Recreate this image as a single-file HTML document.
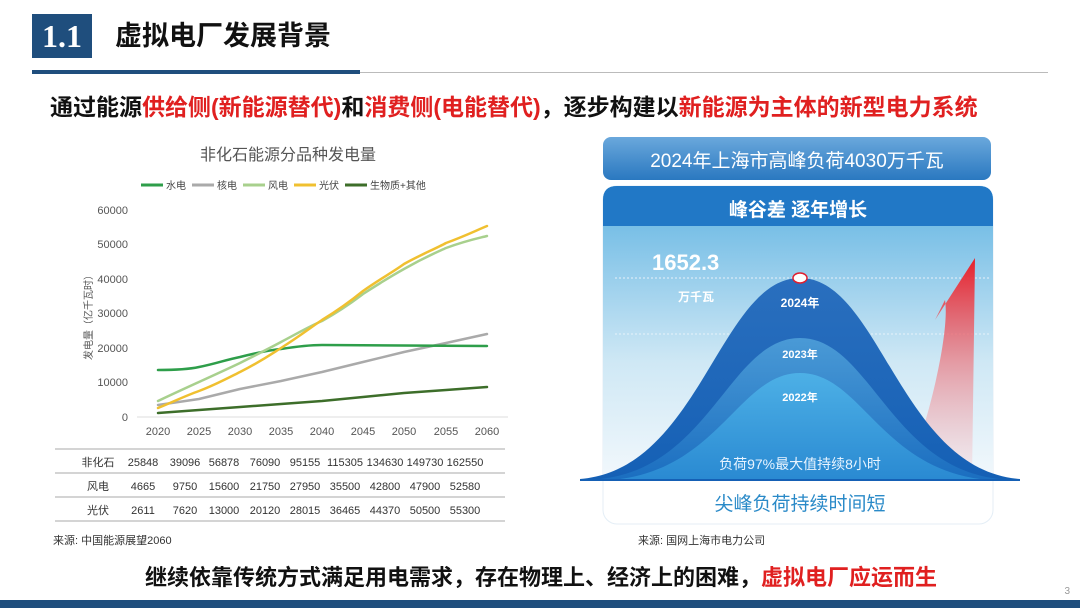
<!DOCTYPE html>
<html><head><meta charset="utf-8"><style>
body{margin:0;width:1080px;height:608px;background:#fff;overflow:hidden;position:relative;font-family:"Liberation Sans","Noto Sans CJK SC",sans-serif}
.a{position:absolute;white-space:nowrap}
</style></head><body>
<div class="a" style="left:32px;top:14px;width:60px;height:44px;background:#1f4e7d;color:#fff;font-family:'Liberation Serif',serif;font-weight:bold;font-size:32px;line-height:44px;text-align:center">1.1</div>
<div class="a" style="left:115px;top:16px;font-size:27px;font-weight:bold;color:#111;line-height:40px">虚拟电厂发展背景</div>
<div class="a" style="left:32px;top:70px;width:328px;height:4px;background:#1f4e7d"></div>
<div class="a" style="left:360px;top:72px;width:688px;height:1px;background:#bbb"></div>
<div class="a" style="left:50px;top:91px;font-size:23px;font-weight:bold;color:#111;line-height:32px">通过能源<span style="color:#e02020">供给侧(新能源替代)</span>和<span style="color:#e02020">消费侧(电能替代)</span>，逐步构建以<span style="color:#e02020">新能源为主体的新型电力系统</span></div>

<svg class="a" style="left:0;top:0" width="1080" height="608">
<text x="288" y="160" font-size="16" fill="#555" text-anchor="middle">非化石能源分品种发电量</text>
<g font-size="10" fill="#444">
<line x1="141" y1="185" x2="163" y2="185" stroke="#2e9e4a" stroke-width="3"/><text x="166" y="189">水电</text>
<line x1="192" y1="185" x2="214" y2="185" stroke="#aaa" stroke-width="3"/><text x="217" y="189">核电</text>
<line x1="243" y1="185" x2="265" y2="185" stroke="#a8d08d" stroke-width="3"/><text x="268" y="189">风电</text>
<line x1="294" y1="185" x2="316" y2="185" stroke="#f0c030" stroke-width="3"/><text x="319" y="189">光伏</text>
<line x1="345" y1="185" x2="367" y2="185" stroke="#3d6e2a" stroke-width="3"/><text x="370" y="189">生物质+其他</text>
</g>
<g font-size="11" fill="#555" text-anchor="end">
<text x="128" y="214">60000</text><text x="128" y="248">50000</text><text x="128" y="283">40000</text><text x="128" y="317">30000</text><text x="128" y="352">20000</text><text x="128" y="386">10000</text><text x="128" y="421">0</text>
</g>
<text transform="translate(92,315) rotate(-90)" font-size="10" fill="#555" text-anchor="middle">发电量（亿千瓦时）</text>
<line x1="137" y1="417" x2="508" y2="417" stroke="#ddd"/>
<g font-size="11" fill="#555" text-anchor="middle">
<text x="158" y="435">2020</text><text x="199" y="435">2025</text><text x="240" y="435">2030</text><text x="281" y="435">2035</text><text x="322" y="435">2040</text><text x="363" y="435">2045</text><text x="404" y="435">2050</text><text x="446" y="435">2055</text><text x="487" y="435">2060</text>
</g>
<g fill="none" stroke-width="2.5" stroke-linecap="round" stroke-linejoin="round">
<polyline points="158,413 199,410 240,407 281,404 322,401 363,397 404,393 446,390 487,387" stroke="#3d6e2a"/>
<polyline points="158,405 199,399 240,389 281,381 322,372 363,362 404,352 446,343 487,334" stroke="#aaa"/>
<path d="M158 370 C180 370 190 369 199 367 C215 364 225 360 240 357 C260 352 270 350 281 349 C300 346 310 345 322 345 L487 346" stroke="#2e9e4a"/>
<path d="M158 401 C185 388 215 375 240 363 C260 353 270 348 281 342 C300 332 310 326 322 321 C345 308 355 300 363 294 C380 283 395 274 404 269 C425 257 435 253 446 248 C465 241 475 239 487 236" stroke="#a8d08d"/>
<path d="M158 408 C175 401 185 396 199 391 C215 385 228 378 240 372 C260 362 270 355 281 348 C300 336 310 328 322 320 C340 309 352 300 363 291 C380 279 393 272 404 264 C420 255 435 249 446 243 C465 236 475 231 487 226" stroke="#f0c030"/>
</g>
<g font-size="11" fill="#333">
<line x1="55" y1="449" x2="505" y2="449" stroke="#aaa"/>
<line x1="55" y1="473" x2="505" y2="473" stroke="#aaa"/>
<line x1="55" y1="497" x2="505" y2="497" stroke="#aaa"/>
<line x1="55" y1="521" x2="505" y2="521" stroke="#aaa"/>
<text x="98" y="466" text-anchor="middle">非化石</text><text x="98" y="490" text-anchor="middle">风电</text><text x="98" y="514" text-anchor="middle">光伏</text>
<g text-anchor="middle">
<text x="143" y="466">25848</text><text x="185" y="466">39096</text><text x="224" y="466">56878</text><text x="265" y="466">76090</text><text x="305" y="466">95155</text><text x="345" y="466">115305</text><text x="385" y="466">134630</text><text x="425" y="466">149730</text><text x="465" y="466">162550</text>
<text x="143" y="490">4665</text><text x="185" y="490">9750</text><text x="224" y="490">15600</text><text x="265" y="490">21750</text><text x="305" y="490">27950</text><text x="345" y="490">35500</text><text x="385" y="490">42800</text><text x="425" y="490">47900</text><text x="465" y="490">52580</text>
<text x="143" y="514">2611</text><text x="185" y="514">7620</text><text x="224" y="514">13000</text><text x="265" y="514">20120</text><text x="305" y="514">28015</text><text x="345" y="514">36465</text><text x="385" y="514">44370</text><text x="425" y="514">50500</text><text x="465" y="514">55300</text>
</g>
<text x="53" y="544">来源:  中国能源展望2060</text>
<text x="638" y="544">来源:  国网上海市电力公司</text>
</g>

<defs>
<linearGradient id="bn" x1="0" y1="0" x2="0" y2="1"><stop offset="0" stop-color="#6aa8dc"/><stop offset="1" stop-color="#2a78c0"/></linearGradient>
<linearGradient id="pl" x1="0" y1="0" x2="0" y2="1"><stop offset="0" stop-color="#5fb3e2"/><stop offset="0.6" stop-color="#cfe8f5"/><stop offset="1" stop-color="#f2f8fc"/></linearGradient>
<linearGradient id="c1" x1="0" y1="0" x2="0" y2="1"><stop offset="0" stop-color="#2a6fbe"/><stop offset="1" stop-color="#1560b5"/></linearGradient>
<linearGradient id="c2" x1="0" y1="0" x2="0" y2="1"><stop offset="0" stop-color="#4a9ad6"/><stop offset="1" stop-color="#1b6ec0"/></linearGradient>
<linearGradient id="c3" x1="0" y1="0" x2="0" y2="1"><stop offset="0" stop-color="#4db0e6"/><stop offset="1" stop-color="#2a8ad2"/></linearGradient>
<linearGradient id="rd" x1="0" y1="0" x2="0" y2="1"><stop offset="0" stop-color="#e8202a"/><stop offset="1" stop-color="#f6d4d8" stop-opacity="0.3"/></linearGradient>
</defs>
<rect x="603" y="137" width="388" height="43" rx="8" fill="url(#bn)"/>
<text x="797" y="167" font-size="19" fill="#fff" text-anchor="middle">2024年上海市高峰负荷4030万千瓦</text>
<rect x="603" y="186" width="390" height="338" rx="14" fill="#fff" stroke="#e4eef6"/>
<path d="M603 200 Q603 186 617 186 L979 186 Q993 186 993 200 L993 480 L603 480 Z" fill="url(#pl)"/>
<path d="M603 200 Q603 186 617 186 L979 186 Q993 186 993 200 L993 226 L603 226 Z" fill="#2178c6"/>
<text x="798" y="216" font-size="19" font-weight="bold" fill="#fff" text-anchor="middle">峰谷差 逐年增长</text>
<line x1="615" y1="278" x2="990" y2="278" stroke="#e8f2fa" stroke-dasharray="2 2"/>
<line x1="615" y1="334" x2="990" y2="334" stroke="#e8f2fa" stroke-dasharray="2 2"/>
<path d="M905 480 C930 420 950 330 945 300 L935 320 L975 258 L972 480 Z" fill="url(#rd)"/>
<path d="M580 479 C700 470 720 278 800 278 C880 278 900 470 1020 479 Z" fill="url(#c1)"/>
<path d="M600 479 C710 468 730 338 800 338 C870 338 890 468 1000 479 Z" fill="url(#c2)"/>
<path d="M620 479 C720 466 740 373 800 373 C860 373 880 466 980 479 Z" fill="url(#c3)"/>
<rect x="580" y="479" width="440" height="2" fill="#1560b5"/>
<ellipse cx="800" cy="278" rx="7" ry="5" fill="#fff" stroke="#e02030" stroke-width="1.5"/>
<text x="652" y="270" font-size="22" font-weight="bold" fill="#fff">1652.3</text>
<text x="678" y="301" font-size="12" font-weight="bold" fill="#fff">万千瓦</text>
<text x="800" y="307" font-size="12" font-weight="bold" fill="#fff" text-anchor="middle">2024年</text>
<text x="800" y="358" font-size="11" font-weight="bold" fill="#fff" text-anchor="middle">2023年</text>
<text x="800" y="401" font-size="11" font-weight="bold" fill="#fff" text-anchor="middle">2022年</text>
<text x="800" y="469" font-size="14" fill="#e8f4ff" text-anchor="middle">负荷97%最大值持续8小时</text>
<text x="800" y="510" font-size="19" fill="#2a8ac8" text-anchor="middle">尖峰负荷持续时间短</text>
<text x="1070" y="594" font-size="10" fill="#999" text-anchor="end">3</text>
</svg>
<div class="a" style="left:145px;top:563px;font-size:22px;font-weight:bold;color:#111;line-height:30px">继续依靠传统方式满足用电需求，存在物理上、经济上的困难，<span style="color:#e02020">虚拟电厂应运而生</span></div>
<div class="a" style="left:0;top:600px;width:1080px;height:8px;background:#1f4e7d"></div>
</body></html>
